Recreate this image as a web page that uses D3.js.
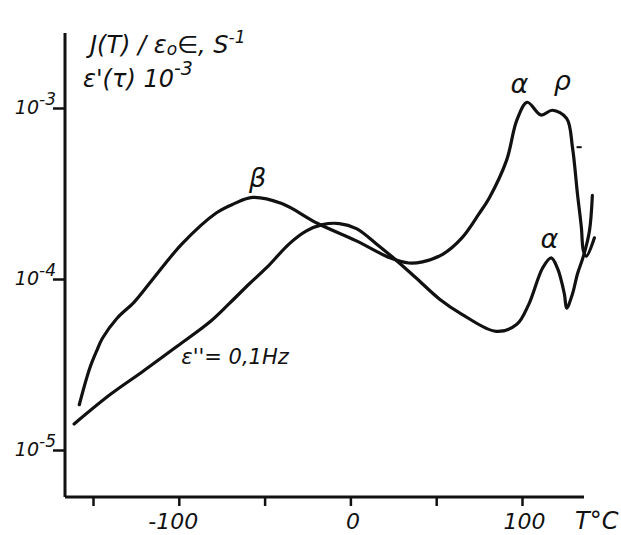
<!DOCTYPE html>
<html>
<head>
<meta charset="utf-8">
<script src="https://cdn.jsdelivr.net/npm/d3@7"></script>
<style>
	body { margin: 0; background: #ffffff; }
	text { font-family: "DejaVu Sans", sans-serif; font-style: italic; fill: #111111; }
</style>
</head>
<body>
<div id="chart"></div>
<script>
// temperature axis, degrees C
var xTicks = [-150, -100, -50, 0, 50, 100];
var xTickLabels = ["", "-100", "", "0", "", "100"];

// log axis, decades
var yTicks = [1e-3, 1e-4, 1e-5];
var yTickExponents = ["-3", "-4", "-5"];

// J(T) / eps0 E  (TSDC current), s^-1
var jTemps = [-158, -152, -148, -144.5, -136, -126, -116, -98, -78, -68, -57, -40, -19, 3.5, 23, 34, 42, 54, 65, 75, 81, 91, 97, 103, 111, 117.7, 126, 129.4, 132.3, 134.6, 135.8, 137.5, 142.2];
var jValues = [1.84e-5, 2.99e-5, 3.77e-5, 4.5e-5, 5.9e-5, 7.33e-5, 9.73e-5, 1.61e-4, 2.44e-4, 2.75e-4, 3.0e-4, 2.76e-4, 2.11e-4, 1.67e-4, 1.33e-4, 1.24e-4, 1.26e-4, 1.40e-4, 1.74e-4, 2.41e-4, 2.99e-4, 4.94e-4, 8.49e-4, 1.08e-3, 9.1e-4, 9.7e-4, 8.7e-4, 5.9e-4, 3.16e-4, 2.0e-4, 1.46e-4, 1.36e-4, 1.74e-4];

// eps''(T) at 0.1 Hz, x 10^-3
var lossTemps = [-161, -140, -121, -101, -82, -70.5, -59, -49, -35.5, -25.6, -16.3, -6.4, 3.5, 15, 27, 38.5, 52, 65, 85, 97, 104, 112, 117, 120.6, 124.7, 126, 129.4, 132.3, 135.8, 139.3, 141];
var lossValues = [1.42e-5, 2.11e-5, 2.88e-5, 4.04e-5, 5.6e-5, 7.2e-5, 9.35e-5, 1.16e-4, 1.61e-4, 1.91e-4, 2.08e-4, 2.11e-4, 1.97e-4, 1.61e-4, 1.28e-4, 1.01e-4, 7.62e-5, 6.22e-5, 4.94e-5, 5.43e-5, 7.13e-5, 1.16e-4, 1.33e-4, 1.16e-4, 8.17e-5, 6.75e-5, 8.17e-5, 1.07e-4, 1.36e-4, 1.91e-4, 3.08e-4];

// relaxation peak names, placed in data coordinates
var peakNames = ["β", "α", "ρ", "α"];
var peakTemps = [-54, 98.5, 123.5, 116];
var peakValues = [3.43e-4, 1.22e-3, 1.28e-3, 1.52e-4];

// small pen stroke beside the J(T) fall: [t1, t2] at one value
var strayTemps = [131.8, 134.8];
var strayValue = 5.9e-4;

function Chart(options)
{
	var _options = Object.assign({
		el: "#chart",
		width: 621,
		height: 535,
		axisX: 65,     // pixel column of the y axis
		axisY: 497,    // pixel row of the x axis
		axisTop: 33,
		axisRight: 584,
		ink: "#111111",
		lineWidth: 3.2
	}, options);

	var x = d3.scaleLinear().domain([-150, 100]).range([93, 522]);
	var y = d3.scaleLog().domain([1e-5, 1e-3]).range([450, 108]);

	function init()
	{
		var svg = d3.select(_options.el).append("svg")
			.attr("width", _options.width)
			.attr("height", _options.height);

		svg.append("rect")
			.attr("width", _options.width)
			.attr("height", _options.height)
			.attr("fill", "#ffffff");

		drawAxes(svg);
		drawCurves(svg);
		drawLabels(svg);
	}

	function drawAxes(svg)
	{
		var o = _options;

		// x axis ticks (below the line)
		var xAxis = d3.axisBottom(x)
			.tickValues(xTicks)
			.tickSize(9)
			.tickPadding(7)
			.tickFormat(function(d, i) { return xTickLabels[i]; });

		var gx = svg.append("g")
			.attr("transform", "translate(0," + o.axisY + ")")
			.call(xAxis);
		gx.select(".domain").remove();
		gx.selectAll(".tick line").attr("stroke", o.ink).attr("stroke-width", 2.5);
		gx.selectAll(".tick text")
			.attr("fill", o.ink)
			.attr("dx", function(d) { return d < 0 ? -6 : 2; })
			.style("font-family", '"DejaVu Sans", sans-serif')
			.style("font-style", "italic")
			.style("font-size", "22px");

		// y axis ticks (left of the line), labels drawn by hand below
		var yAxis = d3.axisLeft(y)
			.tickValues(yTicks)
			.tickSize(12)
			.tickFormat("");

		var gy = svg.append("g")
			.attr("transform", "translate(" + o.axisX + ",0)")
			.call(yAxis);
		gy.select(".domain").remove();
		gy.selectAll(".tick line").attr("stroke", o.ink).attr("stroke-width", 2.5);

		// axis lines
		svg.append("line")
			.attr("x1", o.axisX).attr("y1", o.axisTop)
			.attr("x2", o.axisX).attr("y2", o.axisY)
			.attr("stroke", o.ink).attr("stroke-width", 3);
		svg.append("line")
			.attr("x1", o.axisX).attr("y1", o.axisY)
			.attr("x2", o.axisRight).attr("y2", o.axisY)
			.attr("stroke", o.ink).attr("stroke-width", 3);

		// decade labels 10^n
		yTicks.forEach(function(v, i) {
			var t = svg.append("text")
				.attr("x", o.axisX - 9)
				.attr("y", y(v) + 6)
				.attr("text-anchor", "end")
				.style("font-size", "19px");
			t.append("tspan").text("10");
			t.append("tspan")
				.attr("dy", -9)
				.style("font-size", "17px")
				.text(yTickExponents[i]);
		});

		// temperature unit
		svg.append("text")
			.attr("x", 575)
			.attr("y", 529)
			.style("font-size", "24px")
			.text("T°C");
	}

	function drawCurves(svg)
	{
		var line = d3.line()
			.x(function(d) { return x(d.t); })
			.y(function(d) { return y(d.v); })
			.curve(d3.curveCatmullRom.alpha(0.5));

		var series = [
			jTemps.map(function(t, i) { return {t: t, v: jValues[i]}; }),
			lossTemps.map(function(t, i) { return {t: t, v: lossValues[i]}; })
		];

		series.forEach(function(pts) {
			svg.append("path")
				.attr("d", line(pts))
				.attr("fill", "none")
				.attr("stroke", _options.ink)
				.attr("stroke-width", _options.lineWidth)
				.attr("stroke-linecap", "round")
				.attr("stroke-linejoin", "round");
		});

		svg.append("line")
			.attr("x1", x(strayTemps[0])).attr("y1", y(strayValue))
			.attr("x2", x(strayTemps[1])).attr("y2", y(strayValue))
			.attr("stroke", _options.ink)
			.attr("stroke-width", 2);
	}

	function drawLabels(svg)
	{
		// ordinate titles
		var t1 = svg.append("text")
			.attr("x", 90)
			.attr("y", 53)
			.style("font-size", "24px");
		t1.append("tspan").text("J(T) / ε");
		t1.append("tspan").attr("dy", 2).style("font-size", "17px").text("o");
		t1.append("tspan").attr("dy", -2).text("∈, S");
		t1.append("tspan").attr("dy", -10).style("font-size", "17px").text("-1");

		var t2 = svg.append("text")
			.attr("x", 83)
			.attr("y", 87)
			.style("font-size", "24px");
		t2.append("tspan").text("ε'(τ) 10");
		t2.append("tspan").attr("dy", -12).style("font-size", "19px").text("-3");

		// loss curve label
		svg.append("text")
			.attr("x", x(-98.5))
			.attr("y", y(3.2e-5))
			.style("font-size", "21px")
			.text("ε''= 0,1Hz");

		// peak names
		peakNames.forEach(function(name, i) {
			svg.append("text")
				.attr("x", x(peakTemps[i]))
				.attr("y", y(peakValues[i]))
				.attr("text-anchor", "middle")
				.style("font-size", "27px")
				.text(name);
		});
	}

	this.init = init;
}

new Chart().init();
</script>
</body>
</html>
